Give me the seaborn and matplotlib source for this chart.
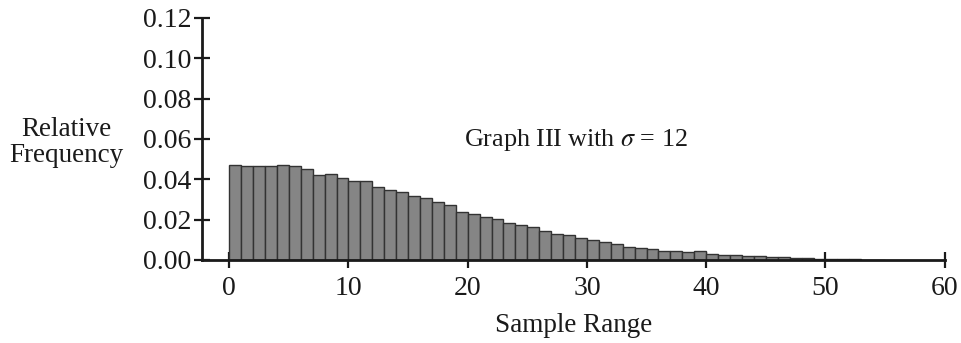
import numpy as np
import pandas as pd
import matplotlib
matplotlib.use("Agg")
import matplotlib.pyplot as plt
import seaborn as sns

# Data (bin left edges, relative frequencies)
bin_left = list(range(0, 55))
rel_freq = [0.0471, 0.0467, 0.0467, 0.0467, 0.0472, 0.0466, 0.0449, 0.0421, 0.0428, 0.0405,
            0.0390, 0.0390, 0.0364, 0.0349, 0.0339, 0.0318, 0.0306, 0.0287, 0.0273, 0.0240,
            0.0226, 0.0214, 0.0201, 0.0184, 0.0171, 0.0163, 0.0143, 0.0130, 0.0122, 0.0109,
            0.0097, 0.0089, 0.0079, 0.0064, 0.0061, 0.0054, 0.0045, 0.0046, 0.0042, 0.0044,
            0.0031, 0.0026, 0.0023, 0.0021, 0.0018, 0.0015, 0.0013, 0.0011, 0.0009, 0.0007,
            0.0005, 0.0004, 0.0003, 0.0002, 0.0001]
x_ticks = [0, 10, 20, 30, 40, 50, 60]
y_ticks = [0.00, 0.02, 0.04, 0.06, 0.08, 0.10, 0.12]
y_tick_labels = ["0.00", "0.02", "0.04", "0.06", "0.08", "0.10", "0.12"]

sns.set_style("white")
plt.rcParams['font.family'] = ['Liberation Serif', 'DejaVu Serif']
plt.rcParams['mathtext.fontset'] = 'stix'

df = pd.DataFrame({"x": [b + 0.5 for b in bin_left], "w": rel_freq})

fig = plt.figure(figsize=(9.61, 3.43), dpi=100)
ax = fig.add_axes([0.210, 0.242, 0.773, 0.706])

sns.histplot(data=df, x="x", weights="w", binwidth=1, binrange=(0, 55), stat="count",
             color="#858585", edgecolor="#333333", linewidth=1.0, alpha=1.0, ax=ax)

ax.set_xlim(-2.3, 60)
ax.set_ylim(0, 0.12)
ax.set_xticks(x_ticks)
ax.set_xticklabels([str(t) for t in x_ticks])
ax.set_yticks(y_ticks)
ax.set_yticklabels(y_tick_labels)
ax.tick_params(bottom=True, left=True, direction="inout", length=11, width=1.6,
               labelsize=20, colors="#1a1a1a")
ax.tick_params(axis="x", pad=6)
ax.tick_params(axis="y", pad=2)

for s in ["top", "right"]:
    ax.spines[s].set_visible(False)
for s in ["left", "bottom"]:
    ax.spines[s].set_linewidth(2.0)
    ax.spines[s].set_color("#1a1a1a")

ax.set_xlabel("Sample Range", fontsize=19.5, labelpad=9, color="#1a1a1a")
ax.set_ylabel("")
fig.text(0.069, 0.585, "Relative\nFrequency", ha="center", va="center", fontsize=19.5,
         color="#1a1a1a", linespacing=1.05)
ax.text(29.1, 0.0597, r"Graph III with $\sigma$ = 12", ha="center", va="center",
        fontsize=18.8, color="#1a1a1a")

fig.savefig("out.png", dpi=100, facecolor="white")
